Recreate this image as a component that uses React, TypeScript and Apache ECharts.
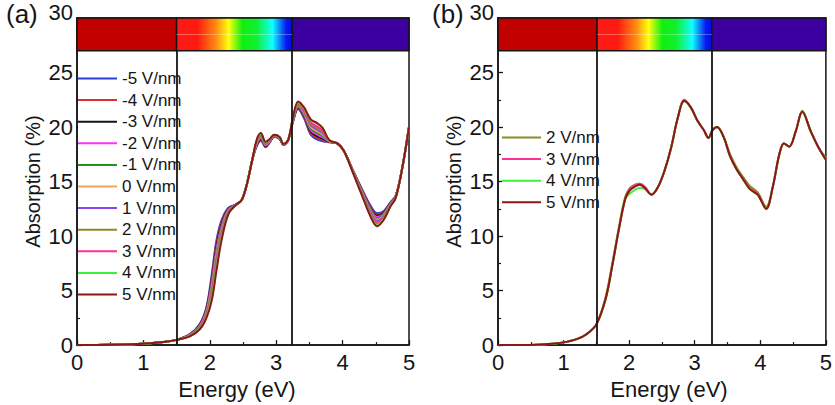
import React, { useEffect, useRef } from "react";
import * as echarts from "echarts";

// ---------- data ----------
const energyA = [0, 0.5, 1.0, 1.3, 1.5, 1.7, 1.85, 1.95, 2.03, 2.1, 2.18, 2.28, 2.4, 2.48, 2.56, 2.64, 2.71, 2.77, 2.84, 2.91, 2.97, 3.05, 3.11, 3.18, 3.25, 3.33, 3.42, 3.52, 3.62, 3.7, 3.8, 3.92, 4.02, 4.15, 4.3, 4.42, 4.52, 4.62, 4.72, 4.8, 4.9, 5.0];

const aM5 = [0, 0.03, 0.12, 0.28, 0.48, 1.0, 1.95, 3.5, 6.5, 9.6, 11.5, 12.6, 12.9, 13.3, 14.8, 17.0, 18.3, 18.75, 18.15, 18.65, 19.1, 18.9, 18.35, 18.8, 20.4, 21.65, 20.8, 19.3, 18.85, 18.7, 18.6, 18.5, 17.8, 16.1, 14.2, 12.8, 12.1, 12.3, 13.1, 13.7, 16.3, 20.0];
const aM4 = [0, 0.03, 0.12, 0.28, 0.48, 0.98, 1.9, 3.4, 6.26, 9.32, 11.32, 12.54, 12.9, 13.3, 14.8, 17.0, 18.36, 18.82, 18.2, 18.68, 19.12, 18.92, 18.36, 18.8, 20.44, 21.72, 20.9, 19.44, 19.0, 18.82, 18.62, 18.5, 17.8, 16.08, 14.14, 12.7, 11.98, 12.22, 13.06, 13.68, 16.3, 20.0];
const aM3 = [0, 0.03, 0.12, 0.28, 0.48, 0.96, 1.85, 3.3, 6.02, 9.04, 11.14, 12.48, 12.9, 13.3, 14.8, 17.0, 18.42, 18.89, 18.25, 18.71, 19.14, 18.94, 18.37, 18.8, 20.48, 21.79, 21.0, 19.58, 19.15, 18.94, 18.64, 18.5, 17.8, 16.06, 14.08, 12.6, 11.86, 12.14, 13.02, 13.66, 16.3, 20.0];
const aM2 = [0, 0.03, 0.12, 0.28, 0.48, 0.94, 1.8, 3.2, 5.78, 8.76, 10.96, 12.42, 12.9, 13.3, 14.8, 17.0, 18.48, 18.96, 18.3, 18.74, 19.16, 18.96, 18.38, 18.8, 20.52, 21.86, 21.1, 19.72, 19.3, 19.06, 18.66, 18.5, 17.8, 16.04, 14.02, 12.5, 11.74, 12.06, 12.98, 13.64, 16.3, 20.0];
const aM1 = [0, 0.03, 0.12, 0.28, 0.48, 0.92, 1.75, 3.1, 5.54, 8.48, 10.78, 12.36, 12.9, 13.3, 14.8, 17.0, 18.54, 19.03, 18.35, 18.77, 19.18, 18.98, 18.39, 18.8, 20.56, 21.93, 21.2, 19.86, 19.45, 19.18, 18.68, 18.5, 17.8, 16.02, 13.96, 12.4, 11.62, 11.98, 12.94, 13.62, 16.3, 20.0];
const a0 = [0, 0.03, 0.12, 0.28, 0.48, 0.9, 1.7, 3.0, 5.3, 8.2, 10.6, 12.3, 12.9, 13.3, 14.8, 17.0, 18.6, 19.1, 18.4, 18.8, 19.2, 19.0, 18.4, 18.8, 20.6, 22.0, 21.3, 20.0, 19.6, 19.3, 18.7, 18.5, 17.8, 16.0, 13.9, 12.3, 11.5, 11.9, 12.9, 13.6, 16.3, 20.0];
const aP1 = [0, 0.03, 0.12, 0.28, 0.48, 0.88, 1.65, 2.9, 5.06, 7.92, 10.42, 12.24, 12.9, 13.3, 14.8, 17.0, 18.66, 19.17, 18.45, 18.83, 19.22, 19.02, 18.41, 18.8, 20.64, 22.07, 21.4, 20.14, 19.75, 19.42, 18.72, 18.5, 17.8, 15.98, 13.84, 12.2, 11.38, 11.82, 12.86, 13.58, 16.3, 20.0];
const aP2 = [0, 0.03, 0.12, 0.28, 0.48, 0.86, 1.6, 2.8, 4.82, 7.64, 10.24, 12.18, 12.9, 13.3, 14.8, 17.0, 18.72, 19.24, 18.5, 18.86, 19.24, 19.04, 18.42, 18.8, 20.68, 22.14, 21.5, 20.28, 19.9, 19.54, 18.74, 18.5, 17.8, 15.96, 13.78, 12.1, 11.26, 11.74, 12.82, 13.56, 16.3, 20.0];
const aP3 = [0, 0.03, 0.12, 0.28, 0.48, 0.84, 1.55, 2.7, 4.58, 7.36, 10.06, 12.12, 12.9, 13.3, 14.8, 17.0, 18.78, 19.31, 18.55, 18.89, 19.26, 19.06, 18.43, 18.8, 20.72, 22.21, 21.6, 20.42, 20.05, 19.66, 18.76, 18.5, 17.8, 15.94, 13.72, 12.0, 11.14, 11.66, 12.78, 13.54, 16.3, 20.0];
const aP4 = [0, 0.03, 0.12, 0.28, 0.48, 0.82, 1.5, 2.6, 4.34, 7.08, 9.88, 12.06, 12.9, 13.3, 14.8, 17.0, 18.84, 19.38, 18.6, 18.92, 19.28, 19.08, 18.44, 18.8, 20.76, 22.28, 21.7, 20.65, 20.35, 19.9, 18.78, 18.5, 17.8, 15.92, 13.66, 11.9, 11.02, 11.58, 12.74, 13.52, 16.3, 20.0];
const aP5 = [0, 0.03, 0.12, 0.28, 0.48, 0.8, 1.45, 2.5, 4.1, 6.8, 9.7, 12.0, 12.9, 13.3, 14.8, 17.0, 18.9, 19.45, 18.65, 18.95, 19.3, 19.1, 18.45, 18.8, 20.8, 22.35, 21.8, 20.7, 20.35, 19.9, 18.8, 18.5, 17.8, 15.9, 13.6, 11.8, 10.9, 11.5, 12.7, 13.5, 16.3, 20.0];

const energyB = [0, 0.5, 0.83, 1.0, 1.2, 1.35, 1.5, 1.64, 1.74, 1.84, 1.94, 2.01, 2.08, 2.16, 2.24, 2.34, 2.44, 2.54, 2.64, 2.74, 2.84, 2.94, 3.04, 3.14, 3.21, 3.27, 3.34, 3.44, 3.54, 3.64, 3.74, 3.84, 3.96, 4.09, 4.19, 4.29, 4.36, 4.44, 4.54, 4.64, 4.77, 4.89, 5.0];

const bP2 = [0, 0.02, 0.12, 0.25, 0.55, 1.0, 1.9, 4.4, 7.4, 10.7, 13.6, 14.4, 14.7, 14.8, 14.5, 13.8, 14.5, 16.0, 18.1, 20.8, 22.5, 21.8, 20.6, 19.7, 19.0, 19.7, 20.0, 19.1, 17.5, 16.3, 15.4, 14.6, 14.0, 12.7, 14.5, 17.5, 18.5, 18.2, 19.6, 21.5, 19.6, 18.1, 17.2];
const bP3 = [0, 0.02, 0.12, 0.25, 0.55, 1.0, 1.9, 4.2, 7.2, 10.5, 13.4, 14.3, 14.6, 14.8, 14.5, 13.8, 14.5, 16.0, 18.1, 20.8, 22.45, 21.8, 20.6, 19.7, 19.0, 19.7, 20.0, 19.1, 17.3, 16.1, 15.2, 14.4, 13.9, 12.5, 14.5, 17.5, 18.5, 18.2, 19.6, 21.4, 19.6, 18.1, 17.0];
const bP4 = [0, 0.02, 0.12, 0.25, 0.55, 1.0, 1.9, 4.2, 7.2, 10.5, 13.4, 13.9, 14.2, 14.4, 14.3, 13.8, 14.5, 16.0, 18.1, 20.8, 22.35, 21.8, 20.6, 19.7, 19.0, 19.7, 20.0, 19.1, 17.3, 16.1, 15.2, 14.3, 13.8, 12.5, 14.5, 17.5, 18.5, 18.2, 19.6, 21.4, 19.6, 18.1, 17.0];
const bP5 = [0, 0.02, 0.12, 0.25, 0.55, 1.0, 1.9, 4.2, 7.2, 10.5, 13.4, 14.2, 14.5, 14.7, 14.4, 13.8, 14.5, 16.0, 18.1, 20.8, 22.4, 21.8, 20.6, 19.7, 19.0, 19.7, 20.0, 19.1, 17.3, 16.1, 15.2, 14.3, 13.8, 12.5, 14.5, 17.5, 18.5, 18.2, 19.6, 21.4, 19.6, 18.1, 17.0];

const namesA = ["-5 V/nm", "-4 V/nm", "-3 V/nm", "-2 V/nm", "-1 V/nm", "0 V/nm", "1 V/nm", "2 V/nm", "3 V/nm", "4 V/nm", "5 V/nm"];
const seriesA = [aM5, aM4, aM3, aM2, aM1, a0, aP1, aP2, aP3, aP4, aP5];
const colorsA = ["#2b3fdc", "#dc3030", "#141414", "#ff30ff", "#239023", "#f0a65a", "#8a48ec", "#8c8c24", "#ff2f95", "#3cf03c", "#8e1616"];

const namesB = ["2 V/nm", "3 V/nm", "4 V/nm", "5 V/nm"];
const seriesB = [bP2, bP3, bP4, bP5];

const xTicks = [0, 5, 1];
const yTicks = [0, 30, 5];
const bandEdgesA = [1.5, 3.24];
const bandEdgesB = [1.51, 3.26];
const barRange = [27, 30];

const FONT = "'Liberation Sans', Arial, Helvetica, sans-serif";
const INK = "#151515";

export default function App() {
  const ref = useRef<HTMLDivElement>(null);

  useEffect(() => {
    if (!ref.current) return;
    const chart = echarts.init(ref.current, undefined, { renderer: "svg" });

    const colorOf = (name: string) => colorsA[namesA.indexOf(name)];

    const mkX = (i: number) => ({
      type: "value",
      gridIndex: i,
      min: xTicks[0],
      max: xTicks[1],
      interval: xTicks[2],
      axisLine: { show: true, onZero: false, lineStyle: { color: INK, width: 1.5 } },
      axisTick: { show: true, inside: true, length: 5, lineStyle: { color: INK, width: 1.3 } },
      minorTick: { show: true, splitNumber: 2, length: 3, lineStyle: { color: INK, width: 1.2 } },
      splitLine: { show: false },
      axisLabel: { fontSize: 22, color: INK, margin: 6, fontFamily: FONT },
      name: "Energy (eV)",
      nameLocation: "middle",
      nameGap: 27,
      nameTextStyle: {
        fontSize: 22,
        color: INK,
        fontFamily: FONT,
        padding: i === 0 ? [0, 12, 0, 0] : [0, 0, 0, 14],
      },
    });

    const mkY = (i: number) => ({
      type: "value",
      gridIndex: i,
      min: yTicks[0],
      max: yTicks[1],
      interval: yTicks[2],
      axisLine: { show: true, onZero: false, lineStyle: { color: INK, width: 1.5 } },
      axisTick: { show: true, inside: true, length: 5, lineStyle: { color: INK, width: 1.3 } },
      minorTick: { show: true, splitNumber: 2, length: 3, lineStyle: { color: INK, width: 1.2 } },
      splitLine: { show: false },
      axisLabel: {
        fontSize: 22,
        color: INK,
        margin: 4,
        fontFamily: FONT,
        formatter: (v: number) => (v === 30 ? "{top|30}" : String(v)),
        rich: { top: { fontSize: 22, color: INK, fontFamily: FONT, padding: [0, 0, 11, 0] } },
      },
      name: "Absorption (%)",
      nameLocation: "middle",
      nameGap: 34,
      nameTextStyle: { fontSize: 20, color: INK, fontFamily: FONT },
    });

    const decor = (i: number) => {
      const edges = i === 0 ? bandEdgesA : bandEdgesB;
      return {
        name: "decor" + i,
        type: "line",
        xAxisIndex: i,
        yAxisIndex: i,
        data: [],
        silent: true,
        z: 3,
        markArea: {
          silent: true,
          itemStyle: { borderColor: INK, borderWidth: 1.5 },
          data: [
            [
              { xAxis: xTicks[0], yAxis: barRange[0], itemStyle: { color: "#c20000", borderColor: INK, borderWidth: 1.5 } },
              { xAxis: edges[0], yAxis: barRange[1] },
            ],
            [
              {
                xAxis: edges[0],
                yAxis: barRange[0],
                itemStyle: {
                  borderColor: INK,
                  borderWidth: 1.5,
                  color: {
                    type: "linear",
                    x: 0,
                    y: 0,
                    x2: 1,
                    y2: 0,
                    colorStops: [
                      { offset: 0, color: "#ff1a1a" },
                      { offset: 0.18, color: "#ff1a10" },
                      { offset: 0.34, color: "#ff8a10" },
                      { offset: 0.45, color: "#ffff10" },
                      { offset: 0.57, color: "#10f010" },
                      { offset: 0.69, color: "#10f030" },
                      { offset: 0.83, color: "#10ffff" },
                      { offset: 0.95, color: "#0818f0" },
                      { offset: 1, color: "#0010e0" },
                    ],
                  },
                },
              },
              { xAxis: edges[1], yAxis: barRange[1] },
            ],
            [
              { xAxis: edges[1], yAxis: barRange[0], itemStyle: { color: "#3c00a0", borderColor: INK, borderWidth: 1.5 } },
              { xAxis: xTicks[1], yAxis: barRange[1] },
            ],
          ],
        },
        markLine: {
          silent: true,
          symbol: ["none", "none"],
          label: { show: false },
          lineStyle: { color: INK, width: 1.8, type: "solid" },
          data: [
            [{ coord: [edges[0], yTicks[0]] }, { coord: [edges[0], barRange[0]] }],
            [{ coord: [edges[1], yTicks[0]] }, { coord: [edges[1], barRange[0]] }],
            [
              { coord: [edges[0], 28.55], lineStyle: { color: "rgba(255,255,255,0.3)", width: 1 } },
              { coord: [edges[1], 28.55] },
            ],
          ],
        },
      };
    };

    const curve = (name: string, xs: number[], ys: number[], i: number) => ({
      name,
      type: "line",
      xAxisIndex: i,
      yAxisIndex: i,
      data: xs.map((x, k) => [x, ys[k]]),
      showSymbol: false,
      symbol: "none",
      smooth: 0.35,
      lineStyle: { width: 2, color: colorOf(name) },
      itemStyle: { color: colorOf(name) },
      z: 2,
    });

    const legendCommon = {
      orient: "vertical",
      itemWidth: 39,
      itemHeight: 2,
      itemGap: 4.6,
      icon: "rect",
      padding: 0,
      backgroundColor: "#ffffff",
      selectedMode: false,
      textStyle: { fontSize: 17, color: INK, fontFamily: FONT },
    };

    chart.setOption({
      animation: false,
      textStyle: { fontFamily: FONT },
      grid: [
        { left: 77, top: 18, width: 332, height: 332, show: true, borderColor: INK, borderWidth: 1.5, backgroundColor: "transparent" },
        { left: 498, top: 18, width: 333, height: 332, show: true, borderColor: INK, borderWidth: 1.5, backgroundColor: "transparent" },
      ],
      xAxis: [mkX(0), mkX(1)],
      yAxis: [mkY(0), mkY(1)],
      legend: [
        { ...legendCommon, data: namesA, left: 78, top: 70 },
        { ...legendCommon, data: namesB, left: 502, top: 129 },
      ],
      graphic: [
        { type: "text", left: 6, top: 1, style: { text: "(a)", fontSize: 26, fill: INK, fontFamily: FONT } },
        { type: "text", left: 432, top: 1, style: { text: "(b)", fontSize: 26, fill: INK, fontFamily: FONT } },
      ],
      series: [
        decor(0),
        decor(1),
        ...seriesA.map((ys, k) => curve(namesA[k], energyA, ys, 0)),
        ...seriesB.map((ys, k) => curve(namesB[k], energyB, ys, 1)),
      ],
    });

    return () => chart.dispose();
  }, []);

  return (
    <div
      ref={ref}
      style={{ position: "fixed", left: 0, top: 0, width: 835, height: 405, background: "#fff" }}
    />
  );
}
